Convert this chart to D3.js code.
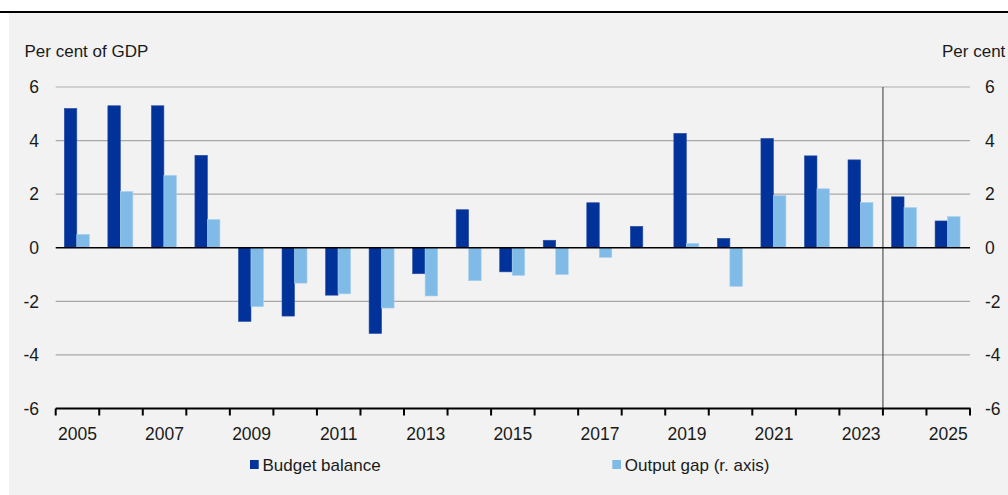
<!DOCTYPE html>
<html>
<head>
<meta charset="utf-8">
<script src="https://cdn.jsdelivr.net/npm/d3@7"></script>
<style>
  html, body { margin: 0; padding: 0; background: #ffffff; }
  svg { display: block; }
  text { font-family: "Liberation Sans", Arial, sans-serif; fill: #1a1a1a; }
</style>
</head>
<body>
<svg id="chart" width="1008" height="495"></svg>
<script>
const years = ["2005","2006","2007","2008","2009","2010","2011","2012","2013","2014","2015","2016","2017","2018","2019","2020","2021","2022","2023","2024","2025"];
const budgetBalance = [5.2, 5.3, 5.3, 3.45, -2.75, -2.55, -1.77, -3.2, -0.97, 1.42, -0.9, 0.28, 1.68, 0.8, 4.27, 0.35, 4.08, 3.43, 3.28, 1.9, 1.0];
const outputGap = [0.5, 2.1, 2.7, 1.05, -2.2, -1.32, -1.72, -2.25, -1.8, -1.23, -1.03, -1.0, -0.36, 0, 0.16, -1.44, 1.95, 2.2, 1.69, 1.5, 1.16];
const leftTicks = [-6, -4, -2, 0, 2, 4, 6];
const rightTicks = [-6, -4, -2, 0, 2, 4, 6];
const labelYears = ["2005","2007","2009","2011","2013","2015","2017","2019","2021","2023","2025"];
const seriesNames = ["Budget balance", "Output gap (r. axis)"];
const forecastStart = "2024";

const svg = d3.select("#chart");
const colDark = "#003299", colLight = "#80bae6";

// background panel
svg.append("rect").attr("x", 9).attr("y", 12).attr("width", 999).attr("height", 483).attr("fill", "#f2f2f2");
svg.append("line").attr("x1", 0).attr("x2", 1008).attr("y1", 12).attr("y2", 12).attr("stroke", "#000").attr("stroke-width", 2.2);

const x = d3.scaleBand().domain(years).range([55.7, 970]).paddingInner(0).paddingOuter(0);
const yL = d3.scaleLinear().domain([-6, 6]).range([408.5, 87]);
const yR = d3.scaleLinear().domain([-6, 6]).range([408.5, 87]);

// gridlines
svg.append("g").selectAll("line").data(leftTicks.filter(t => t !== 0 && t !== -6)).join("line")
  .attr("x1", 55.7).attr("x2", 970)
  .attr("y1", d => yL(d)).attr("y2", d => yL(d))
  .attr("stroke", d => d === 6 ? "#c4c4c4" : "#a8a8a8").attr("stroke-width", 1.4);

// forecast divider
svg.append("line")
  .attr("x1", x(forecastStart)).attr("x2", x(forecastStart))
  .attr("y1", yL(6)).attr("y2", yL(-6))
  .attr("stroke", "#555").attr("stroke-width", 1.2);

const bw = x.bandwidth();
const barW = bw * 0.287;
const off1 = bw * 0.198;
const off2 = off1 + barW;

// budget balance bars
svg.append("g").selectAll("rect").data(years).join("rect")
  .attr("x", (d) => x(d) + off1)
  .attr("width", barW)
  .attr("y", (d, i) => yL(Math.max(0, budgetBalance[i])))
  .attr("height", (d, i) => Math.abs(yL(budgetBalance[i]) - yL(0)))
  .attr("fill", colDark).attr("stroke", "#2a50a8").attr("stroke-width", 0.6);

// output gap bars (right axis)
svg.append("g").selectAll("rect").data(years.filter((d, i) => outputGap[i] !== 0)).join("rect")
  .attr("x", (d) => x(d) + off2)
  .attr("width", barW)
  .attr("y", (d) => { const v = outputGap[years.indexOf(d)]; return yR(Math.max(0, v)); })
  .attr("height", (d) => { const v = outputGap[years.indexOf(d)]; return Math.abs(yR(v) - yR(0)); })
  .attr("fill", colLight).attr("stroke", "#a8d0ee").attr("stroke-width", 0.6);

// zero line
svg.append("line").attr("x1", 55.7).attr("x2", 970).attr("y1", yL(0)).attr("y2", yL(0))
  .attr("stroke", "#000").attr("stroke-width", 1.6);

// bottom axis
const xAxisG = svg.append("g");
xAxisG.append("line").attr("x1", 55.7).attr("x2", 970.5).attr("y1", yL(-6)).attr("y2", yL(-6))
  .attr("stroke", "#000").attr("stroke-width", 2);
const tickPos = years.map(d => x(d)).concat([x.range()[1]]);
xAxisG.selectAll("line.tk").data(tickPos).join("line").attr("class", "tk")
  .attr("x1", d => d).attr("x2", d => d)
  .attr("y1", yL(-6)).attr("y2", yL(-6) + 7)
  .attr("stroke", "#000").attr("stroke-width", 2);
xAxisG.selectAll("text").data(labelYears).join("text")
  .attr("x", d => x(d) + bw / 2).attr("y", 440)
  .attr("text-anchor", "middle").attr("font-size", 17.5)
  .text(d => d);

// left axis labels
svg.append("g").selectAll("text").data(leftTicks).join("text")
  .attr("x", 39).attr("y", d => yL(d)).attr("dy", "0.36em")
  .attr("text-anchor", "end").attr("font-size", 17.5).text(d => d);
// right axis labels
svg.append("g").selectAll("text").data(rightTicks).join("text")
  .attr("x", 985).attr("y", d => yR(d)).attr("dy", "0.36em")
  .attr("text-anchor", "start").attr("font-size", 17.5).text(d => d);

// axis titles
svg.append("text").attr("x", 24.5).attr("y", 56.5).attr("font-size", 17).text("Per cent of GDP");
svg.append("text").attr("x", 942).attr("y", 56.5).attr("font-size", 17).text("Per cent");

// legend
const leg = [{ x: 250, c: colDark, t: seriesNames[0] }, { x: 612.3, c: colLight, t: seriesNames[1] }];
const lg = svg.append("g").selectAll("g").data(leg).join("g");
lg.append("rect").attr("x", d => d.x).attr("y", 460).attr("width", 8.7).attr("height", 9).attr("fill", d => d.c);
lg.append("text").attr("x", d => d.x + 12.5).attr("y", 470.5).attr("font-size", 17).text(d => d.t);
</script>
</body>
</html>
